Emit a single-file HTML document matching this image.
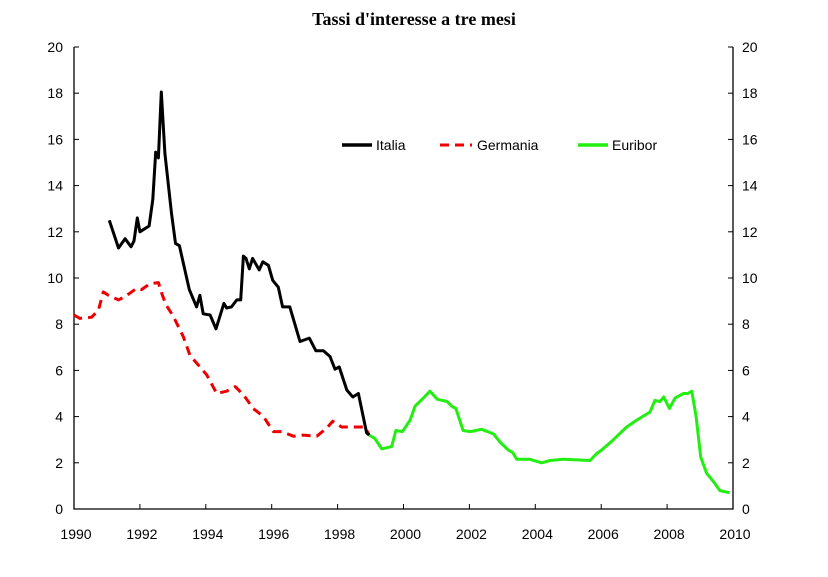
<!DOCTYPE html>
<html><head><meta charset="utf-8"><style>
body{margin:0;background:#fff;}
svg text{font-family:"Liberation Sans",sans-serif;font-size:14px;fill:#000;}
</style></head><body>
<svg id="chart" width="828" height="572">
<text x="414" y="25" text-anchor="middle" style="font-family:'Liberation Serif',serif;font-weight:bold;font-size:18px">Tassi d'interesse a tre mesi</text>
<g id="axes"></g>
<g id="series"></g>
<g>
<line x1="342" y1="145" x2="372" y2="145" stroke="#000" stroke-width="3.5"/>
<text x="376" y="150">Italia</text>
<line x1="440" y1="145" x2="472" y2="145" stroke="#e00" stroke-width="3" stroke-dasharray="9,6"/>
<text x="477" y="150">Germania</text>
<line x1="578" y1="145" x2="608" y2="145" stroke="#22ee11" stroke-width="3.5"/>
<text x="612" y="150">Euribor</text>
</g>
</svg>
<script>
const xTicks=[1990,1992,1994,1996,1998,2000,2002,2004,2006,2008,2010];
const yTicks=[0,2,4,6,8,10,12,14,16,18,20];
const italiaX=[1991.07,1991.35,1991.55,1991.73,1991.82,1991.92,1992.0,1992.28,1992.39,1992.48,1992.56,1992.65,1992.76,1992.96,1993.08,1993.2,1993.5,1993.72,1993.82,1993.92,1994.13,1994.31,1994.55,1994.63,1994.78,1994.94,1995.06,1995.14,1995.22,1995.32,1995.42,1995.62,1995.73,1995.9,1996.03,1996.2,1996.33,1996.55,1996.86,1997.14,1997.34,1997.57,1997.77,1997.92,1998.05,1998.28,1998.46,1998.63,1998.88,1998.96];
const italiaY=[12.5,11.3,11.7,11.35,11.6,12.6,12.0,12.25,13.4,15.45,15.2,18.05,15.4,12.8,11.5,11.4,9.5,8.75,9.25,8.45,8.4,7.8,8.9,8.7,8.75,9.05,9.05,10.95,10.85,10.4,10.85,10.35,10.7,10.55,9.9,9.6,8.75,8.75,7.25,7.4,6.85,6.85,6.6,6.05,6.15,5.15,4.85,5.0,3.3,3.2];
const germaniaX=[1990.0,1990.18,1990.53,1990.74,1990.89,1991.04,1991.35,1991.55,1991.9,1992.05,1992.3,1992.56,1992.66,1992.79,1993.01,1993.32,1993.52,1993.82,1994.03,1994.33,1994.63,1994.89,1995.14,1995.44,1995.75,1996.05,1996.3,1996.66,1996.96,1997.37,1997.67,1997.85,1998.12,1998.43,1998.83,1998.96];
const germaniaY=[8.4,8.25,8.3,8.6,9.4,9.25,9.05,9.2,9.55,9.5,9.75,9.8,9.35,8.85,8.35,7.45,6.65,6.15,5.8,5.0,5.1,5.3,4.95,4.35,4.0,3.35,3.35,3.15,3.2,3.15,3.5,3.8,3.55,3.55,3.55,3.2];
const euriborX=[1998.96,1999.13,1999.34,1999.64,1999.77,1999.97,2000.2,2000.35,2000.6,2000.8,2001.03,2001.33,2001.46,2001.59,2001.81,2002.02,2002.37,2002.73,2002.93,2003.18,2003.31,2003.44,2003.84,2004.19,2004.45,2004.85,2005.66,2005.86,2006.01,2006.37,2006.77,2007.08,2007.48,2007.63,2007.78,2007.9,2008.07,2008.24,2008.5,2008.63,2008.75,2008.88,2009.02,2009.2,2009.4,2009.6,2009.9];
const euriborY=[3.2,3.05,2.6,2.7,3.4,3.35,3.85,4.45,4.8,5.1,4.75,4.65,4.45,4.35,3.4,3.35,3.45,3.25,2.9,2.55,2.45,2.15,2.15,2.0,2.1,2.15,2.1,2.4,2.55,3.0,3.55,3.85,4.2,4.7,4.65,4.85,4.35,4.8,5.0,5.0,5.1,4.0,2.25,1.55,1.2,0.8,0.7];

const X0=74,X1=733,Y0=509,Y1=47;
const sx=v=>X0+(v-1990)/20*(X1-X0);
const sy=v=>Y0-v/20*(Y0-Y1);
const NS="http://www.w3.org/2000/svg";
function mk(tag,attrs,parent){const e=document.createElementNS(NS,tag);for(const k in attrs)e.setAttribute(k,attrs[k]);parent.appendChild(e);return e;}
const axes=document.getElementById('axes'),series=document.getElementById('series');
const frame=mk('path',{d:`M${X0},${Y1}V${Y0}H${X1}V${Y1}`,fill:'none',stroke:'#000','stroke-width':1.3},axes);


yTicks.forEach(t=>{
  const y=sy(t);
  mk('line',{x1:X0,x2:X0+5,y1:y,y2:y,stroke:'#000'},axes);
  mk('line',{x1:X1-5,x2:X1,y1:y,y2:y,stroke:'#000'},axes);
  const l=mk('text',{x:X0-11,y:y+5,'text-anchor':'end'},axes);l.textContent=t;
  
  
  const r=mk('text',{x:X1+9,y:y+5,'text-anchor':'start'},axes);r.textContent=t;
  
  
});
xTicks.forEach(t=>{
  const x=sx(t);
  mk('line',{x1:x,x2:x,y1:Y0,y2:Y0-5,stroke:'#000'},axes);
  const l=mk('text',{x:x+2,y:Y0+30,'text-anchor':'middle'},axes);l.textContent=t;
  
  
});
function line(xs,ys,color,dash,name){
  const d=xs.map((v,i)=>(i?'L':'M')+sx(v).toFixed(1)+','+sy(ys[i]).toFixed(1)).join('');
  const p=mk('path',{d:d,fill:'none',stroke:color,'stroke-width':3,'stroke-linejoin':'round'},series);
  if(dash)p.setAttribute('stroke-dasharray',dash);
  
  
}
line(germaniaX,germaniaY,'#e00','9,6','germania-line');
line(euriborX,euriborY,'#22ee11',null,'euribor-line');
line(italiaX,italiaY,'#000',null,'italia-line');
</script>
</body></html>
